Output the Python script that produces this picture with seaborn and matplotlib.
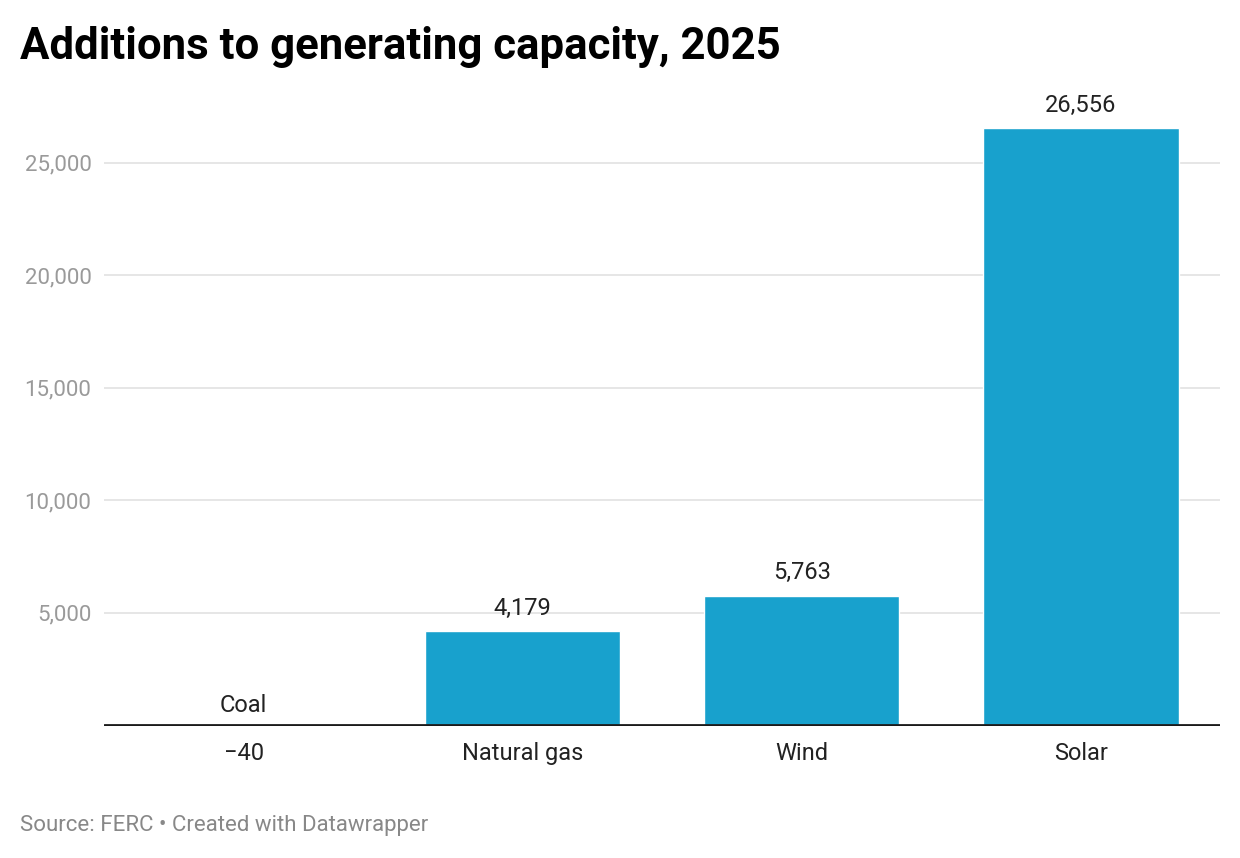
import matplotlib
matplotlib.use("Agg")
import matplotlib.pyplot as plt
import seaborn as sns
import pandas as pd

# data
categories = ["Coal", "Natural gas", "Wind", "Solar"]
values = [-40, 4179, 5763, 26556]
y_ticks = [5000, 10000, 15000, 20000, 25000]

df = pd.DataFrame({"source": categories, "mw": values})

def fmt(v):
    s = f"{abs(v):,}"
    return ("\u2212" + s) if v < 0 else s

sns.set_style("white")
plt.rcParams["font.family"] = ["Roboto", "DejaVu Sans"]

fig = plt.figure(figsize=(12.4, 8.58), dpi=100)
ax = fig.add_axes([0.0839, 0.1538, 0.9003, 0.735])

sns.barplot(data=df, x="source", y="mw", color="#18a1cd", width=0.70,
            saturation=1, ax=ax, zorder=3)

ax.set_xlim(-0.5, len(categories) - 0.5)
ax.set_ylim(-40, 28000)

# gridlines
ax.set_yticks(y_ticks)
ax.set_yticklabels([f"{t:,}" for t in y_ticks], color="#9a9a9a", fontsize=16)
ax.yaxis.grid(True, color="#e2e2e2", linewidth=1.2, zorder=0)
ax.axhline(0, color="#1a1a1a", linewidth=2, zorder=4)
ax.tick_params(axis="y", length=0, pad=9)

# x tick labels: negative bars show value below, category above
xt = []
for i, (c, v) in enumerate(zip(categories, values)):
    if v < 0:
        xt.append(fmt(v))
        ax.annotate(c, (i, 0), xytext=(0, 6), textcoords="offset points",
                    ha="center", va="bottom", fontsize=17, color="#222222")
    else:
        xt.append(c)
        ax.annotate(fmt(v), (i, v), xytext=(0, 8), textcoords="offset points",
                    ha="center", va="bottom", fontsize=17, color="#222222")
ax.set_xticks(range(len(categories)))
ax.set_xticklabels(xt, fontsize=17, color="#222222")
ax.tick_params(axis="x", length=0, pad=11.5)

ax.set_xlabel("")
ax.set_ylabel("")
sns.despine(ax=ax, left=True, bottom=True)

fig.text(20 / 1240, 1 - 47 / 858, "Additions to generating capacity, 2025",
         fontsize=31.5, fontweight="bold", color="#000000", va="center", ha="left")
fig.text(20 / 1240, 1 - 825 / 858, "Source: FERC \u2022 Created with Datawrapper",
         fontsize=16, color="#888888", va="center", ha="left")

fig.savefig("out.png", dpi=100)
